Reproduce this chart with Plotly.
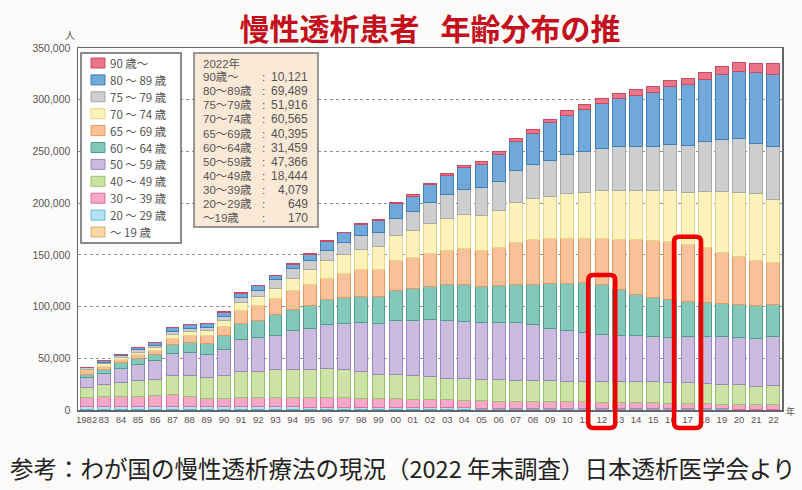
import plotly.graph_objects as go

# ---------------- data ----------------
years = list(range(1982, 2023))
tick_labels = ["1982", "83", "84", "85", "86", "87", "88", "89", "90", "91",
               "92", "93", "94", "95", "96", "97", "98", "99", "00", "01",
               "02", "03", "04", "05", "06", "07", "08", "09", "10", "11",
               "12", "13", "14", "15", "16", "17", "18", "19", "20", "21", "22"]

age_under19 = [400, 400, 400, 400, 400, 400, 400, 400, 400, 400,
               400, 400, 400, 350, 350, 350, 330, 320, 300, 300,
               290, 280, 270, 260, 250, 240, 230, 220, 210, 200,
               200, 190, 190, 180, 180, 180, 170, 170, 170, 170, 170]
age_20_29 = [2800, 2900, 3000, 3000, 3100, 3200, 3000, 2800, 2700, 2600,
             2600, 2600, 2600, 2550, 2500, 2400, 2300, 2200, 2100, 2000,
             1900, 1800, 1700, 1650, 1600, 1550, 1500, 1450, 1400, 1350,
             1300, 1250, 1200, 1100, 1000, 950, 900, 850, 780, 700, 649]
age_30_39 = [9100, 9600, 10100, 10100, 10700, 11200, 10100, 8300, 8200, 9400,
             9300, 9300, 9300, 9400, 9050, 9150, 8670, 8780, 8600, 8300,
             8110, 7620, 7030, 7090, 6850, 6610, 6370, 6430, 6290, 6250,
             6100, 5960, 5810, 5620, 5320, 5070, 4830, 4580, 4350, 4230, 4079]
age_40_49 = [9600, 11900, 13200, 15200, 15500, 18400, 19400, 20100, 22500, 24700,
             24800, 26400, 27000, 27300, 28400, 27400, 26400, 23500, 23200, 22900,
             21900, 21200, 21000, 20700, 21000, 20600, 20300, 20900, 20100, 20200,
             20400, 20000, 20200, 20200, 19900, 20200, 19900, 19300, 18900, 18100, 18444]
age_50_59 = [9700, 10600, 13300, 15100, 17700, 21000, 22500, 22200, 24900, 31200,
             33200, 33800, 37400, 39400, 41900, 43900, 46700, 48400, 52200, 53500,
             55500, 56100, 55400, 54700, 54700, 55400, 54500, 50000, 48400, 46800,
             45200, 45100, 44200, 43800, 43900, 44500, 45100, 46000, 46100, 46100, 47366]
age_60_64 = [3200, 4200, 5900, 6100, 6400, 9600, 10000, 10700, 12900, 15500,
             16700, 19400, 20000, 22500, 24200, 25800, 25800, 26400, 29000, 30000,
             31500, 33900, 35500, 34800, 35500, 37400, 38900, 43500, 46100, 48600,
             47700, 44200, 40300, 37700, 36700, 33800, 32900, 32300, 31900, 32200, 31459]
age_65_69 = [3200, 2900, 3200, 3300, 4200, 5800, 6800, 7700, 9000, 12200,
             13600, 16100, 19300, 19400, 20900, 23200, 25200, 25800, 29000, 30700,
             32300, 33800, 35100, 35500, 37400, 40000, 42600, 43500, 43500, 42600,
             45100, 48300, 52500, 55100, 55700, 55500, 53100, 48900, 46000, 43500, 40395]
age_70_74 = [1600, 2000, 2000, 2600, 2600, 3600, 3500, 4200, 5800, 7800,
             9200, 9600, 11300, 14500, 17100, 18300, 20000, 22500, 24200, 25800,
             29000, 30300, 32900, 33600, 35500, 38700, 40300, 40300, 42900, 44200,
             46700, 47700, 47700, 48100, 49100, 50000, 54200, 59000, 62200, 63900, 60565]
age_75_79 = [1200, 1400, 1500, 2500, 2000, 2500, 2900, 2900, 3800, 5200,
             6200, 8100, 9700, 9600, 9400, 11600, 13500, 13600, 16700, 18300,
             20300, 23200, 24500, 26700, 28600, 30900, 32900, 35400, 37700, 39600,
             39700, 41900, 42500, 42800, 45100, 46000, 48300, 50700, 52300, 48900, 51916]
age_80_89 = [500, 1600, 1100, 2100, 2600, 3600, 3900, 4200, 4500, 3800,
             3900, 4000, 4000, 5700, 9300, 9300, 10800, 12000, 14700, 15100,
             16900, 18900, 20700, 22700, 25700, 28400, 30200, 36100, 38000, 40900,
             43500, 46800, 49300, 52500, 55700, 58700, 60300, 62800, 64400, 68400, 69489]
age_90plus = [20, 50, 100, 100, 200, 300, 300, 300, 400, 700,
              700, 800, 800, 800, 600, 700, 800, 900, 1100, 1300,
              1500, 1700, 1900, 2100, 2400, 2700, 3200, 3300, 4500, 4900,
              4800, 4800, 5500, 5500, 5500, 5800, 6800, 7400, 9100, 9000, 10121]

legend_names = ["～ 19 歳", "20 ～ 29 歳", "30 ～ 39 歳", "40 ～ 49 歳", "50 ～ 59 歳",
                "60 ～ 64 歳", "65 ～ 69 歳", "70 ～ 74 歳", "75 ～ 79 歳",
                "80 ～ 89 歳", "90 歳～"]
box_names = ["～19歳", "20～29歳", "30～39歳", "40～49歳", "50～59歳",
             "60～64歳", "65～69歳", "70～74歳", "75～79歳", "80～89歳", "90歳～"]
series = [age_under19, age_20_29, age_30_39, age_40_49, age_50_59, age_60_64,
          age_65_69, age_70_74, age_75_79, age_80_89, age_90plus]

highlight_years = [2012, 2017]
highlight_tops = [130500, 167500]

title_text = "慢性透析患者\u2002\u2009年齢分布の推"
footer_text = "参考：わが国の慢性透析療法の現況（2022 年末調査）日本透析医学会より"

# ---------------- style ----------------
fills = ["#f7d7a8", "#b4e2f2", "#f5a9c7", "#cde3a6", "#cbbbdf", "#84c8bb",
         "#f8c197", "#fdf2ba", "#cecece", "#70a9da", "#ea7589"]
lines = ["#dcae6e", "#62b9d8", "#e070a0", "#98c26c", "#9886c0", "#4f9f91",
         "#e39a62", "#e9d685", "#a9a9a9", "#3f7eb6", "#c94b62"]

W, H = 802, 490
L, R, T, B = 78, 782, 48, 410
YMAX = 350000
X0, X1 = 1981.5, 2022.5
FONT = "Noto Sans CJK JP"
MIXED = "Liberation Sans, Noto Sans CJK JP"
GREY = "#555555"


def pxx(px):
    return (px - L) / (R - L)


def pxy(py):
    return (B - py) / (B - T)


def note(px, py, text, size, color=GREY, xanchor="left", align="left", family=FONT):
    return dict(xref="paper", yref="paper", x=pxx(px), y=pxy(py),
                xanchor=xanchor, yanchor="middle", showarrow=False, borderpad=0,
                align=align, text=text, font=dict(family=family, size=size, color=color))


fig = go.Figure()
for name, vals, fc, lc in zip(legend_names, series, fills, lines):
    fig.add_trace(go.Bar(x=years, y=vals, name=name, width=0.75,
                         marker=dict(color=fc, line=dict(color=lc, width=1)),
                         showlegend=False))

shapes = []
annotations = []

# ----- manual legend -----
shapes.append(dict(type="rect", xref="paper", yref="paper",
                   x0=pxx(81), x1=pxx(181), y0=pxy(243), y1=pxy(53),
                   fillcolor="white", line=dict(color="#666666", width=1.5)))
n = len(legend_names)
for i in range(n):
    k = n - 1 - i  # top row = 90+
    cy = 63 + 16.9 * i
    shapes.append(dict(type="rect", xref="paper", yref="paper",
                       x0=pxx(91), x1=pxx(105), y0=pxy(cy + 5), y1=pxy(cy - 5),
                       fillcolor=fills[k], line=dict(color=lines[k], width=1)))
    annotations.append(note(109, cy, legend_names[k], 11.5))

# ----- 2022 info box -----
shapes.append(dict(type="rect", xref="paper", yref="paper",
                   x0=pxx(194), x1=pxx(318), y0=pxy(227), y1=pxy(53),
                   fillcolor="#fbe9d7", line=dict(color="#777777", width=1.5)))
LH = 14.04
first = 63.3
FS = 11.5
for i in range(n + 1):
    cy = first + LH * i
    if i == 0:
        annotations.append(note(202, cy, f"{years[-1]}年", FS, family=MIXED))
        continue
    k = n - i
    annotations.append(note(202, cy, box_names[k], FS, family=MIXED))
    annotations.append(note(263, cy, ":", 11.5, xanchor="center",
                            family="Liberation Sans"))
    annotations.append(note(309, cy, f"{series[k][-1]:,}", 12, xanchor="right",
                            family="Liberation Sans"))

# ----- red highlight boxes -----
for yr, top in zip(highlight_years, highlight_tops):
    xc = (yr - X0) / (X1 - X0)
    hw = 13.5 / (R - L)
    x0, x1 = xc - hw, xc + hw
    y1 = top / YMAX
    y0 = pxy(428)
    rx, ry = 5 / (R - L), 5 / (B - T)
    path = (f"M {x0+rx},{y0} L {x1-rx},{y0} Q {x1},{y0} {x1},{y0+ry} "
            f"L {x1},{y1-ry} Q {x1},{y1} {x1-rx},{y1} L {x0+rx},{y1} "
            f"Q {x0},{y1} {x0},{y1-ry} L {x0},{y0+ry} Q {x0},{y0} {x0+rx},{y0} Z")
    shapes.append(dict(type="path", xref="paper", yref="paper", path=path,
                       line=dict(color="#ee0000", width=4.5)))

# ----- unit labels -----
annotations.append(note(70, 34, "人", 10, xanchor="center"))
annotations.append(note(790, 411, "年", 9, xanchor="center"))

# ----- footer -----
annotations.append(note(402.5, 468, footer_text, 23.5, color="#222222",
                        xanchor="center", align="center"))

fig.update_layout(
    width=W, height=H,
    margin=dict(l=L, r=W - R, t=T, b=H - B),
    barmode="stack",
    bargap=0,
    paper_bgcolor="#fdfbf9",
    plot_bgcolor="white",
    showlegend=False,
    title=dict(text=title_text, x=430 / W, xanchor="center", xref="container",
               y=1 - 29 / H, yanchor="middle", yref="container",
               font=dict(family=FONT, size=30, color="#c4101c", weight="bold")),
    shapes=shapes,
    annotations=annotations,
    xaxis=dict(range=[X0, X1], tickmode="array", tickvals=years, ticktext=tick_labels,
               showgrid=False, showline=True, mirror=True, linecolor="#666666",
               linewidth=1.5, ticks="", tickangle=0,
               tickfont=dict(family="Liberation Sans", size=9.5, color=GREY)),
    yaxis=dict(range=[0, YMAX], tickmode="array",
               tickvals=[0, 50000, 100000, 150000, 200000, 250000, 300000, 350000],
               ticktext=["0", "50,000", "100,000", "150,000", "200,000", "250,000",
                         "300,000", "350,000"],
               showgrid=True, gridcolor="#8f8f8f", griddash="dot", gridwidth=1,
               zeroline=False, showline=True, mirror=True, linecolor="#666666",
               linewidth=1.5, ticks="", ticklabelstandoff=4,
               tickfont=dict(family="Liberation Sans", size=10.5, color=GREY)),
)

fig.write_html("out.html",
               config={"displayModeBar": False, "staticPlot": True},
               post_script="document.body.style.margin='0';"
                           "document.body.style.overflow='hidden';")
